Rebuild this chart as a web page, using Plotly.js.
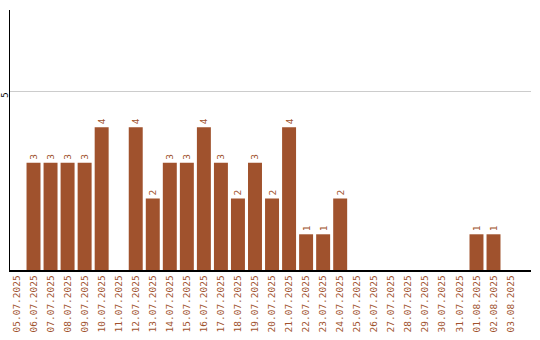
<!DOCTYPE html>
<html>
<head>
<meta charset="utf-8">
<script src="https://cdn.plot.ly/plotly-3.0.1.min.js"></script>
<style>
  html, body { margin: 0; padding: 0; background: #fff; }
  #chart { width: 540px; height: 340px; }
</style>
</head>
<body>
<div id="chart"></div>
<script>
// Daily counts, 05.07.2025 – 03.08.2025
const days = [
  "05.07.2025", "06.07.2025", "07.07.2025", "08.07.2025", "09.07.2025",
  "10.07.2025", "11.07.2025", "12.07.2025", "13.07.2025", "14.07.2025",
  "15.07.2025", "16.07.2025", "17.07.2025", "18.07.2025", "19.07.2025",
  "20.07.2025", "21.07.2025", "22.07.2025", "23.07.2025", "24.07.2025",
  "25.07.2025", "26.07.2025", "27.07.2025", "28.07.2025", "29.07.2025",
  "30.07.2025", "31.07.2025", "01.08.2025", "02.08.2025", "03.08.2025"
];
const counts = [
  0, 3, 3, 3, 3,
  4, 0, 4, 2, 3,
  3, 4, 3, 2, 3,
  2, 4, 1, 1, 2,
  0, 0, 0, 0, 0,
  0, 0, 1, 1, 0
];
const yTicks = [5];

const barColor = "#A0522D";

// Only non-zero days get a value label
const labels = counts.map(v => (v > 0 ? String(v) : ""));

const trace = {
  type: "bar",
  x: days,
  y: counts,
  marker: { color: barColor },
  text: labels,
  textposition: "outside",
  textangle: -90,
  textfont: { family: "DejaVu Sans Mono", size: 9.5, color: barColor },
  cliponaxis: false,
  hoverinfo: "none"
};

const layout = {
  width: 540,
  height: 340,
  margin: { l: 10, r: 9, t: 10, b: 70, pad: 0 },
  paper_bgcolor: "#ffffff",
  plot_bgcolor: "#ffffff",
  showlegend: false,
  bargap: 0.18,
  xaxis: {
    type: "category",
    range: [-0.38, 30.2],
    showline: true,
    linecolor: "#000000",
    linewidth: 1.5,
    showgrid: false,
    zeroline: false,
    ticks: "",
    tickangle: -90,
    tickfont: { family: "DejaVu Sans Mono", size: 9.5, color: barColor },
    fixedrange: true
  },
  yaxis: {
    range: [0, 7.28],
    showline: true,
    linecolor: "#000000",
    linewidth: 1.5,
    showgrid: true,
    gridcolor: "#cccccc",
    gridwidth: 1,
    zeroline: false,
    tickmode: "array",
    tickvals: yTicks,
    ticktext: yTicks.map(String),
    ticks: "",
    ticklabelstandoff: -3,
    ticklabelshift: 5,
    tickangle: -90,
    tickfont: { family: "DejaVu Sans Mono", size: 9, color: "#000000" },
    fixedrange: true
  }
};

Plotly.newPlot("chart", [trace], layout, { displayModeBar: false, staticPlot: true });
</script>
</body>
</html>
